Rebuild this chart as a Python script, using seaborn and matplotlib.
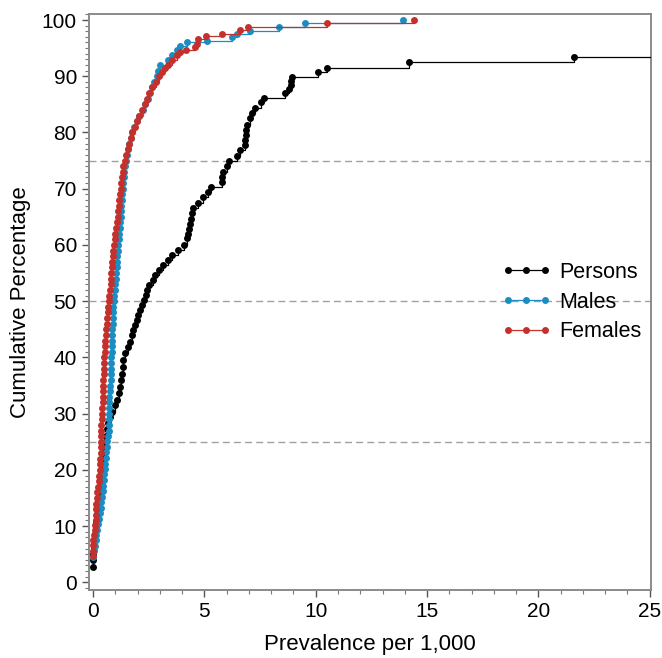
import numpy as np
import pandas as pd
import matplotlib
matplotlib.use("Agg")
import matplotlib.pyplot as plt
from matplotlib.ticker import MultipleLocator
import seaborn as sns

# --- data (prevalence per 1,000 vs cumulative %) ---
persons_x = [0.00, 0.00, 0.01, 0.02, 0.04, 0.07, 0.11, 0.14, 0.17, 0.20,
             0.22, 0.24, 0.27, 0.31, 0.35, 0.39, 0.43, 0.47, 0.50, 0.55,
             0.58, 0.63, 0.68, 0.76, 0.84, 0.99, 1.06, 1.14, 1.21, 1.26,
             1.29, 1.32, 1.36, 1.44, 1.58, 1.66, 1.74, 1.81, 1.89, 1.99,
             2.03, 2.11, 2.19, 2.28, 2.36, 2.44, 2.50, 2.71, 2.78, 2.95,
             3.16, 3.35, 3.53, 3.80, 4.10, 4.20, 4.28, 4.32, 4.35, 4.40,
             4.43, 4.50, 4.73, 4.95, 5.18, 5.30, 5.78, 5.80, 5.85, 6.03,
             6.12, 6.45, 6.60, 6.82, 6.84, 6.85, 6.87, 6.90, 7.05, 7.12,
             7.27, 7.53, 7.67, 8.62, 8.81, 8.87, 8.90, 8.92, 10.10, 10.50,
             14.20, 21.60, 31.00]
persons_y = [2.7, 3.9, 5.0, 6.2, 7.4, 8.6, 9.8, 10.9, 12.1, 13.3,
             14.5, 15.6, 16.8, 18.0, 19.2, 20.4, 21.5, 22.7, 23.9, 25.0,
             26.1, 27.2, 28.3, 29.4, 30.3, 31.5, 32.4, 33.6, 34.8, 35.9,
             37.1, 38.3, 39.5, 40.7, 41.9, 42.8, 43.9, 44.8, 45.7, 46.6,
             47.5, 48.4, 49.3, 50.2, 51.1, 52.0, 52.8, 53.7, 54.6, 55.5,
             56.4, 57.3, 58.2, 59.1, 60.0, 61.2, 62.0, 62.9, 63.8, 64.7,
             65.6, 66.5, 67.5, 68.6, 69.5, 70.3, 71.2, 72.1, 73.0, 74.0,
             74.9, 75.9, 76.9, 77.8, 78.6, 79.5, 80.4, 81.3, 82.5, 83.4,
             84.3, 85.4, 86.1, 87.0, 87.7, 88.4, 89.1, 89.9, 90.8, 91.5,
             92.5, 93.5, 94.2]

males_x = [0.01, 0.04, 0.08, 0.11, 0.14, 0.17, 0.21, 0.25, 0.29, 0.33,
           0.36, 0.39, 0.42, 0.44, 0.47, 0.50, 0.52, 0.54, 0.57, 0.59,
           0.62, 0.64, 0.67, 0.69, 0.70, 0.70, 0.71, 0.71, 0.72, 0.72,
           0.74, 0.76, 0.78, 0.79, 0.80, 0.81, 0.82, 0.83, 0.83, 0.84,
           0.85, 0.86, 0.87, 0.88, 0.90, 0.91, 0.93, 0.95, 0.97, 0.99,
           1.01, 1.03, 1.05, 1.07, 1.09, 1.11, 1.13, 1.15, 1.17, 1.19,
           1.21, 1.23, 1.25, 1.27, 1.29, 1.31, 1.33, 1.35, 1.37, 1.40,
           1.44, 1.48, 1.53, 1.58, 1.63, 1.68, 1.74, 1.84, 1.96, 2.08,
           2.22, 2.35, 2.45, 2.55, 2.65, 2.75, 2.85, 2.93, 3.00, 3.38,
           3.53, 3.76, 3.90, 4.20, 5.10, 6.22, 6.45, 7.05, 8.36, 9.52,
           13.90]
males_y = [4.5, 5.5, 6.5, 7.5, 8.4, 9.3, 10.3, 11.3, 12.3, 13.3,
           14.2, 15.2, 16.2, 17.2, 18.2, 19.2, 20.1, 21.1, 22.1, 23.1,
           24.1, 25.1, 26.0, 27.0, 28.0, 29.0, 30.0, 31.0, 32.0, 33.0,
           34.0, 35.0, 36.0, 37.0, 38.0, 39.0, 40.0, 41.0, 42.0, 43.0,
           44.0, 45.0, 46.0, 47.0, 48.0, 49.0, 50.0, 51.0, 52.0, 53.0,
           54.0, 55.0, 56.0, 57.0, 58.0, 59.0, 60.0, 61.0, 62.0, 63.0,
           64.0, 65.0, 66.0, 67.0, 68.0, 69.0, 70.0, 71.0, 72.0, 73.0,
           74.0, 75.0, 76.0, 77.0, 78.0, 79.0, 80.0, 81.0, 82.0, 83.0,
           84.0, 85.0, 86.0, 87.0, 88.0, 89.0, 90.0, 91.0, 92.0, 92.9,
           93.8, 94.7, 95.4, 96.0, 96.3, 97.0, 97.6, 98.0, 98.7, 99.4,
           100.0]

females_x = [0.00, 0.00, 0.01, 0.01, 0.05, 0.09, 0.10, 0.12, 0.13, 0.14,
             0.15, 0.17, 0.19, 0.21, 0.24, 0.26, 0.29, 0.31, 0.32, 0.33,
             0.33, 0.34, 0.35, 0.36, 0.37, 0.38, 0.39, 0.40, 0.42, 0.43,
             0.44, 0.45, 0.46, 0.47, 0.48, 0.49, 0.50, 0.51, 0.53, 0.55,
             0.56, 0.58, 0.60, 0.62, 0.65, 0.68, 0.70, 0.73, 0.76, 0.78,
             0.79, 0.81, 0.83, 0.85, 0.87, 0.89, 0.92, 0.96, 0.99, 1.03,
             1.07, 1.10, 1.12, 1.15, 1.18, 1.20, 1.23, 1.27, 1.31, 1.33,
             1.36, 1.43, 1.49, 1.55, 1.62, 1.68, 1.76, 1.86, 1.97, 2.07,
             2.20, 2.32, 2.42, 2.53, 2.66, 2.83, 2.96, 3.08, 3.23, 3.38,
             3.53, 3.76, 3.90, 4.17, 4.58, 4.65, 4.73, 5.07, 5.78, 6.60,
             6.97, 10.52, 14.40]
females_y = [4.6, 5.6, 6.6, 7.5, 8.4, 9.3, 10.2, 11.1, 12.0, 13.0,
             14.0, 15.0, 16.0, 17.0, 18.0, 19.0, 20.0, 21.0, 22.0, 23.0,
             24.0, 25.0, 26.0, 27.0, 28.0, 29.0, 30.0, 31.0, 32.0, 33.0,
             34.0, 35.0, 36.0, 37.0, 38.0, 39.0, 40.0, 41.0, 42.0, 43.0,
             44.0, 45.0, 46.0, 47.0, 48.0, 49.0, 50.0, 51.0, 52.0, 53.0,
             54.0, 55.0, 56.0, 57.0, 58.0, 59.0, 60.0, 61.0, 62.0, 63.0,
             64.0, 65.0, 66.0, 67.0, 68.0, 69.0, 70.0, 71.0, 72.0, 73.0,
             74.0, 75.0, 76.0, 77.0, 78.0, 79.0, 80.0, 81.0, 82.0, 83.0,
             84.0, 85.0, 86.0, 87.0, 88.0, 89.0, 90.0, 90.8, 91.4, 92.0,
             92.9, 93.8, 94.3, 94.7, 95.2, 95.8, 96.6, 97.2, 97.6, 98.2,
             98.8, 99.4, 100.0]

groups = ["Persons", "Males", "Females"]
colors = {"Persons": "#000000", "Males": "#1b8dc2", "Females": "#c4302b"}
ref_lines = [25, 50, 75]

df = pd.concat([
    pd.DataFrame({"prev": persons_x, "cum": persons_y, "group": "Persons"}),
    pd.DataFrame({"prev": males_x, "cum": males_y, "group": "Males"}),
    pd.DataFrame({"prev": females_x, "cum": females_y, "group": "Females"}),
], ignore_index=True)

sns.set_style("ticks")
plt.rcParams["font.family"] = ["Liberation Sans", "DejaVu Sans"]
plt.rcParams["text.color"] = "black"
plt.rcParams["axes.labelcolor"] = "black"

fig = plt.figure(figsize=(6.62, 6.58), dpi=100)
ax = fig.add_axes([0.134, 0.103, 0.849, 0.876])

for y in ref_lines:
    ax.axhline(y, color="#a0a0a0", lw=1.0, ls=(0, (5, 3)), zorder=1)

sns.lineplot(data=df, x="prev", y="cum", hue="group", hue_order=groups,
             palette=colors, estimator=None, sort=False, ax=ax,
             drawstyle="steps-post", marker="o", markersize=5,
             markeredgewidth=0, linewidth=0.9, zorder=3)

ax.set_xlim(-0.2, 25.05)
ax.set_ylim(-1.4, 101.1)
ax.xaxis.set_major_locator(MultipleLocator(5))
ax.xaxis.set_minor_locator(MultipleLocator(1))
ax.yaxis.set_major_locator(MultipleLocator(10))
ax.yaxis.set_minor_locator(MultipleLocator(1))
ax.tick_params(which="major", length=5, width=1, color="#555555",
               labelsize=15, labelcolor="black", direction="out")
ax.tick_params(which="minor", length=3, width=0.8, color="#777777",
               direction="out")
for s in ax.spines.values():
    s.set_color("#8a8a8a")
    s.set_linewidth(1.4)

ax.set_xlabel("Prevalence per 1,000", fontsize=16, labelpad=9)
ax.set_ylabel("Cumulative Percentage", fontsize=16, labelpad=8)

handles, labels = ax.get_legend_handles_labels()
ax.legend(handles, labels, loc="center left", bbox_to_anchor=(0.70, 0.50),
          frameon=False, numpoints=3, fontsize=15.5, handlelength=2.3,
          handletextpad=0.4, labelspacing=0.4)

fig.savefig("out.png", dpi=100)
